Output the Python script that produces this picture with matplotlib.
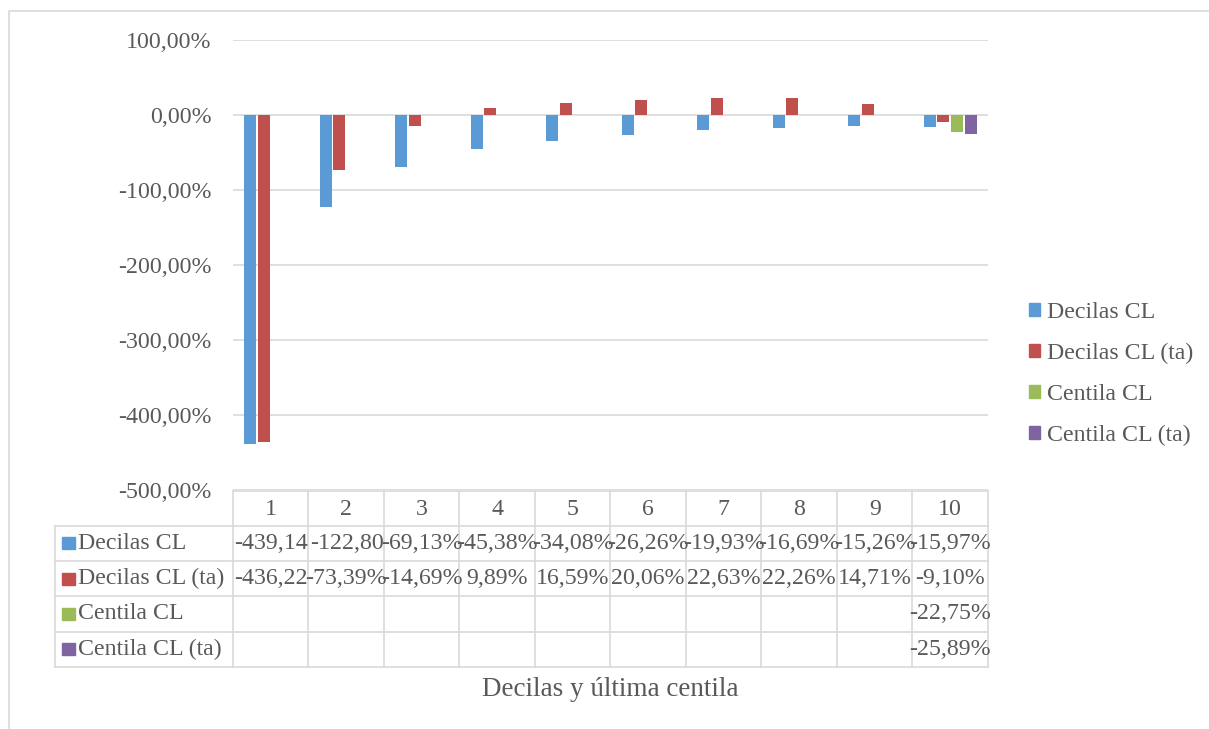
import matplotlib.pyplot as plt
from matplotlib.patches import Patch, Rectangle
from matplotlib.lines import Line2D
from matplotlib.transforms import Bbox, TransformedBbox

plt.rcParams['font.family'] = ['Liberation Serif', 'DejaVu Serif']

# datos: variación por decil y última centila
categorias = ['1', '2', '3', '4', '5', '6', '7', '8', '9', '10']
series = ['Decilas CL', 'Decilas CL (ta)', 'Centila CL', 'Centila CL (ta)']
decilas_cl = [-439.14, -122.80, -69.13, -45.38, -34.08, -26.26, -19.93, -16.69, -15.26, -15.97]
decilas_cl_ta = [-436.22, -73.39, -14.69, 9.89, 16.59, 20.06, 22.63, 22.26, 14.71, -9.10]
centila_cl = [None] * 9 + [-22.75]
centila_cl_ta = [None] * 9 + [-25.89]
valores = [decilas_cl, decilas_cl_ta, centila_cl, centila_cl_ta]
colores = ['#5B9BD5', '#C0504D', '#9BBB59', '#8064A2']

GRIS_TXT = '#595959'
GRIS_LIN = '#d9d9d9'
FS = 17.2
FS_TIT = 19.5

W, H = 1209, 729
fig = plt.figure(figsize=(W / 100, H / 100), dpi=100)

# área de trazado en píxeles
X0, X1, Y0, Y1 = 233, 988, 40, 490
ax = fig.add_axes([X0 / W, 1 - Y1 / H, (X1 - X0) / W, (Y1 - Y0) / H])


def fmt(v):
    return ('%.2f' % v).replace('.', ',') + '%'


n = len(categorias)
paso = 0.18
ancho = 0.16
for j, (vals, col) in enumerate(zip(valores, colores)):
    xs = [i + (j - 1.5) * paso for i, v in enumerate(vals) if v is not None]
    ys = [v for v in vals if v is not None]
    ax.bar(xs, ys, width=ancho, color=col, zorder=3, linewidth=0)

ax.set_xlim(-0.5, n - 0.5)
ax.set_ylim(-500, 100)
ax.set_yticks(range(-500, 101, 100))
ax.set_yticklabels([fmt(t) for t in range(-500, 101, 100)])
ax.tick_params(axis='y', length=0, pad=15.5, labelsize=FS, labelcolor=GRIS_TXT)
ax.tick_params(axis='x', length=0, labelbottom=False)
ax.grid(axis='y', color=GRIS_LIN, linewidth=1.2, zorder=0)
for s in ax.spines.values():
    s.set_visible(False)


# tabla de datos bajo el gráfico (coordenadas en píxeles -> ejes)
def ax_x(px):
    return (px - X0) / (X1 - X0)


def ax_y(py):
    return (Y1 - py) / (Y1 - Y0)


tabla_izq = 55
filas = [491, 525.5, 561, 596, 631.5, 667]
col_w = (X1 - X0) / n


def linea(xa, xb, ya, yb):
    ax.add_line(Line2D([ax_x(xa), ax_x(xb)], [ax_y(ya), ax_y(yb)], transform=ax.transAxes,
                       color=GRIS_LIN, linewidth=1.2, clip_on=False))


linea(X0, X1, filas[0], filas[0])
for y in filas[1:]:
    linea(tabla_izq, X1, y, y)
linea(tabla_izq, tabla_izq, filas[1], filas[-1])
for k in range(n + 1):
    x = X0 + k * col_w
    linea(x, x, filas[0], filas[-1])

# cabecera con las categorías
for k, c in enumerate(categorias):
    ax.text(ax_x(X0 + (k + 0.5) * col_w), ax_y((filas[0] + filas[1]) / 2 + 1), c,
            transform=ax.transAxes, ha='center', va='center', fontsize=FS, color=GRIS_TXT)

for r, (nombre, vals, col) in enumerate(zip(series, valores, colores)):
    yc = (filas[r + 1] + filas[r + 2]) / 2
    ax.add_patch(Rectangle((ax_x(62), ax_y(yc + 6)), ax_x(75) - ax_x(62), ax_y(yc - 6) - ax_y(yc + 6),
                           transform=ax.transAxes, color=col, clip_on=False))
    ax.text(ax_x(78), ax_y(yc), nombre, transform=ax.transAxes, ha='left', va='center',
            fontsize=FS, color=GRIS_TXT)
    for k, v in enumerate(vals):
        if v is None:
            continue
        xl = X0 + k * col_w
        if abs(v) >= 100:
            # no cabe en la celda: se alinea a la izquierda y se recorta
            t = ax.text(ax_x(xl + 1.5), ax_y(yc), fmt(v), transform=ax.transAxes, ha='left',
                        va='center', fontsize=FS, color=GRIS_TXT)
            caja = Bbox([[ax_x(xl), ax_y(filas[r + 2])], [ax_x(xl + col_w - 0.5), ax_y(filas[r + 1])]])
            t.set_clip_box(TransformedBbox(caja, ax.transAxes))
            t.set_clip_on(True)
        else:
            ax.text(ax_x(xl + col_w / 2), ax_y(yc), fmt(v), transform=ax.transAxes, ha='center',
                    va='center', fontsize=FS, color=GRIS_TXT, clip_on=False)

fig.text((X0 + X1) / 2 / W, 1 - 689 / H, 'Decilas y última centila', ha='center', va='center',
         fontsize=FS_TIT, color=GRIS_TXT)

# leyenda a la derecha
manejadores = [Patch(color=c, label=s) for s, c in zip(series, colores)]
fig.legend(handles=manejadores, loc='center left', bbox_to_anchor=(1029 / W, 1 - 374 / H),
           frameon=False, fontsize=FS, labelcolor=GRIS_TXT, handlelength=0.48, handleheight=0.48,
           handletextpad=0.27, labelspacing=0.83, borderpad=0, borderaxespad=0)

# marco del gráfico
fig.add_artist(Line2D([8.5 / W, 8.5 / W, 1], [0, 1 - 11 / H, 1 - 11 / H], transform=fig.transFigure,
                      color=GRIS_LIN, linewidth=1.2))

fig.savefig('out.png', dpi=100)
